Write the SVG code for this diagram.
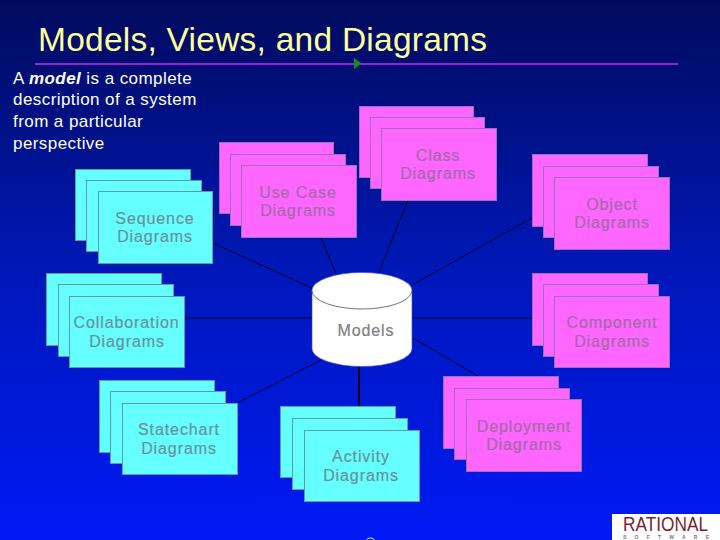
<svg xmlns="http://www.w3.org/2000/svg" width="720" height="540" viewBox="0 0 720 540">
<style>
text{font-family:"Liberation Sans",Arial,sans-serif}
.lbl{font-size:16px;text-anchor:middle;letter-spacing:.9px;stroke-width:.2px}
.c rect{fill:#66ffff;stroke:#5f9aa8;stroke-width:1}
.c text{fill:#66929c;stroke:#66929c}
.m rect{fill:#ff66ff;stroke:#9a70b8;stroke-width:1}
.m text{fill:#a06ba8;stroke:#a06ba8}
.body{fill:#fff;font-size:17px;letter-spacing:.43px}
.con line{stroke:#00001f;stroke-width:.9}
</style>
<defs><linearGradient id="bg" x1="0" y1="0" x2="0" y2="1"><stop offset="0" stop-color="#000a5c"/><stop offset=".5" stop-color="#0018b8"/><stop offset="1" stop-color="#0019f5"/></linearGradient></defs>
<rect width="720" height="540" fill="url(#bg)"/>
<text id="title" x="38" y="51" font-size="33.500" fill="#ffff99" textLength="449">Models, Views, and Diagrams</text>
<path id="rule" d="M35 64H678" stroke="#9a1fd0" stroke-width="2"/>
<path id="mark" d="M354 58L361.500 63.500L354 69Z" fill="#0f8f1f"/>
<g id="intro" class="body"><text x="13" y="84">A <tspan font-weight="bold" font-style="italic">model</tspan> is a complete</text><text x="13" y="105">description of a system</text><text x="13" y="127">from a particular</text><text x="13" y="149">perspective</text></g>
<g id="connectors" class="con">
<line x1="213" y1="243" x2="312" y2="288"/>
<line x1="321" y1="238" x2="336" y2="274"/>
<line x1="408" y1="200" x2="379" y2="272"/>
<line x1="532" y1="218" x2="412" y2="285"/>
<line x1="184" y1="318" x2="312" y2="318"/>
<line x1="412" y1="318" x2="532" y2="318"/>
<line x1="237" y1="403" x2="323" y2="359"/>
<line x1="413" y1="338" x2="478" y2="376"/>
<line x1="359" y1="366" x2="359" y2="406" style="stroke-width:2"/>
</g>
<g id="sequence" class="c"><rect x="75.500" y="169.500" width="115" height="71"/><rect x="86.500" y="180.500" width="115" height="71"/><rect x="98.500" y="191.500" width="114" height="72"/><text class="lbl" x="155" y="224">Sequence</text><text class="lbl" x="155" y="242">Diagrams</text></g>
<g id="usecase" class="m"><rect x="219.500" y="142.500" width="114" height="71"/><rect x="230.500" y="154.500" width="115" height="71"/><rect x="241.500" y="165.500" width="115" height="72"/><text class="lbl" x="298" y="198">Use Case</text><text class="lbl" x="298" y="216">Diagrams</text></g>
<g id="class" class="m"><rect x="359.500" y="106.500" width="114" height="71"/><rect x="370.500" y="117.500" width="114" height="71"/><rect x="381.500" y="128.500" width="115" height="72"/><text class="lbl" x="438" y="161">Class</text><text class="lbl" x="438" y="179">Diagrams</text></g>
<g id="object" class="m"><rect x="532.500" y="154.500" width="115" height="72"/><rect x="543.500" y="166.500" width="115" height="71"/><rect x="554.500" y="177.500" width="115" height="72"/><text class="lbl" x="612" y="210">Object</text><text class="lbl" x="612" y="228">Diagrams</text></g>
<g id="collaboration" class="c"><rect x="46.500" y="273.500" width="115" height="72"/><rect x="58.500" y="284.500" width="115" height="72"/><rect x="69.500" y="296.500" width="115" height="71"/><text class="lbl" x="126.500" y="328">Collaboration</text><text class="lbl" x="127" y="347">Diagrams</text></g>
<g id="component" class="m"><rect x="532.500" y="273.500" width="115" height="72"/><rect x="543.500" y="284.500" width="115" height="72"/><rect x="554.500" y="296.500" width="115" height="71"/><text class="lbl" x="612" y="328">Component</text><text class="lbl" x="612" y="347">Diagrams</text></g>
<g id="statechart" class="c"><rect x="99.500" y="380.500" width="115" height="72"/><rect x="110.500" y="391.500" width="115" height="72"/><rect x="122.500" y="403.500" width="115" height="71"/><text class="lbl" x="179" y="435">Statechart</text><text class="lbl" x="179" y="454">Diagrams</text></g>
<g id="activity" class="c"><rect x="280.500" y="406.500" width="115" height="71"/><rect x="292.500" y="418.500" width="115" height="71"/><rect x="304.500" y="430.500" width="115" height="71"/><text class="lbl" x="361" y="462">Activity</text><text class="lbl" x="361" y="481">Diagrams</text></g>
<g id="deployment" class="m"><rect x="443.500" y="376.500" width="115" height="72"/><rect x="454.500" y="388.500" width="115" height="71"/><rect x="466.500" y="399.500" width="115" height="72"/><text class="lbl" x="524" y="432">Deployment</text><text class="lbl" x="524" y="450">Diagrams</text></g>
<g id="models"><path d="M312 290.500A50 18 0 0 1 412 290.500V348.500A50 18 0 0 1 312 348.500Z" fill="#fff" stroke="#3a4fc0" stroke-width=".6"/><path d="M312 290.500A50 18.500 0 0 0 412 290.500" fill="none" stroke="#6a7490"/><text class="lbl" x="366" y="336" fill="#808080" stroke="#808080">Models</text></g>
<g id="logo"><rect x="612" y="514" width="108" height="26" fill="#fff"/><text x="623" y="531" font-size="20" fill="#7a1f2f" textLength="85" lengthAdjust="spacingAndGlyphs">RATIONAL</text><text x="623" y="539" font-size="5" font-weight="bold" fill="#777" textLength="86">SOFTWARE</text></g>
<ellipse id="speck" cx="370.500" cy="539.500" rx="3.500" ry="1.500" fill="none" stroke="#d8e8ff" stroke-width="1"/>
</svg>
